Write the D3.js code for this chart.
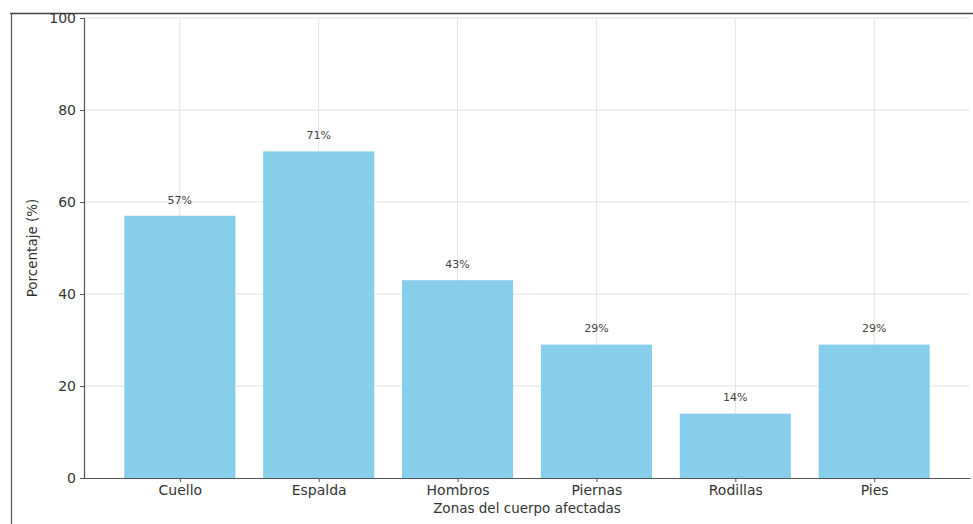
<!DOCTYPE html>
<html>
<head>
<meta charset="utf-8">
<script src="https://cdn.jsdelivr.net/npm/d3@7"></script>
<style>
  html, body { margin: 0; padding: 0; background: #fff; }
  svg { display: block; }
  text { font-family: "DejaVu Sans", sans-serif; }
</style>
</head>
<body>
<script>
// Zonas del cuerpo y porcentaje de personas afectadas
const categories = ["Cuello", "Espalda", "Hombros", "Piernas", "Rodillas", "Pies"];
const values = [57, 71, 43, 29, 14, 29];
const yTicks = [0, 20, 40, 60, 80, 100];

const W = 973, H = 524;
const margin = { top: 18, right: 3, bottom: 46, left: 84 };
const innerW = W - margin.left - margin.right;
const innerH = H - margin.top - margin.bottom;

const svg = d3.select("body").append("svg")
  .attr("width", W).attr("height", H);

// outer frame
svg.append("line").attr("x1", 10).attr("x2", W).attr("y1", 13.5).attr("y2", 13.5)
  .attr("stroke", "#444").attr("stroke-width", 1.3);
svg.append("line").attr("x1", 11.5).attr("x2", 11.5).attr("y1", 13).attr("y2", H)
  .attr("stroke", "#555").attr("stroke-width", 1.2);

const g = svg.append("g").attr("transform", `translate(${margin.left},${margin.top})`);

// linear x domain with matplotlib-like margins around bars of width 0.8
const n = categories.length;
const x = d3.scaleLinear().domain([-0.69, n - 1 + 0.69]).range([0, innerW]);
const y = d3.scaleLinear().domain([0, 100]).range([innerH, 0]);
const barW = x(0.8) - x(0);

// grid
g.append("g").selectAll("line.h").data(yTicks.slice(1)).join("line")
  .attr("x1", 0).attr("x2", innerW)
  .attr("y1", d => y(d)).attr("y2", d => y(d))
  .attr("stroke", "#e3e3e3").attr("stroke-width", 1);
g.append("g").selectAll("line.v").data(categories).join("line")
  .attr("x1", (d, i) => x(i)).attr("x2", (d, i) => x(i))
  .attr("y1", 0).attr("y2", innerH)
  .attr("stroke", "#e3e3e3").attr("stroke-width", 1);

// bars
g.append("g").selectAll("rect").data(values).join("rect")
  .attr("x", (d, i) => x(i) - barW / 2)
  .attr("width", barW)
  .attr("y", d => y(d))
  .attr("height", d => innerH - y(d))
  .attr("fill", "#87CEEB");

// value labels
g.append("g").selectAll("text").data(values).join("text")
  .attr("x", (d, i) => x(i))
  .attr("y", d => y(d + 2) - 3)
  .attr("text-anchor", "middle")
  .attr("font-size", 11)
  .attr("fill", "#444")
  .text(d => d + "%");

// y axis
const yAxis = g.append("g")
  .call(d3.axisLeft(y).tickValues(yTicks).tickSize(4).tickPadding(4));
yAxis.select(".domain").attr("stroke", "#555").attr("stroke-width", 1.2);
yAxis.selectAll(".tick line").attr("stroke", "#555");
yAxis.selectAll(".tick text").attr("font-size", 14).attr("fill", "#333")
  .attr("font-family", "DejaVu Sans, sans-serif");

// x axis
const xAxis = g.append("g").attr("transform", `translate(0,${innerH})`)
  .call(d3.axisBottom(x).tickValues(d3.range(n)).tickFormat(i => categories[i])
    .tickSize(4).tickPadding(3).tickSizeOuter(0));
xAxis.select(".domain").attr("stroke", "#555").attr("stroke-width", 1.2);
xAxis.selectAll(".tick line").attr("stroke", "#555");
xAxis.selectAll(".tick text").attr("font-size", 14).attr("fill", "#333")
  .attr("font-family", "DejaVu Sans, sans-serif");

// axis titles
svg.append("text")
  .attr("x", margin.left + innerW / 2).attr("y", 513)
  .attr("text-anchor", "middle").attr("font-size", 13.5).attr("fill", "#333")
  .text("Zonas del cuerpo afectadas");
svg.append("text")
  .attr("transform", `translate(37,${margin.top + innerH / 2}) rotate(-90)`)
  .attr("text-anchor", "middle").attr("font-size", 13.5).attr("fill", "#333")
  .text("Porcentaje (%)");
</script>
</body>
</html>
